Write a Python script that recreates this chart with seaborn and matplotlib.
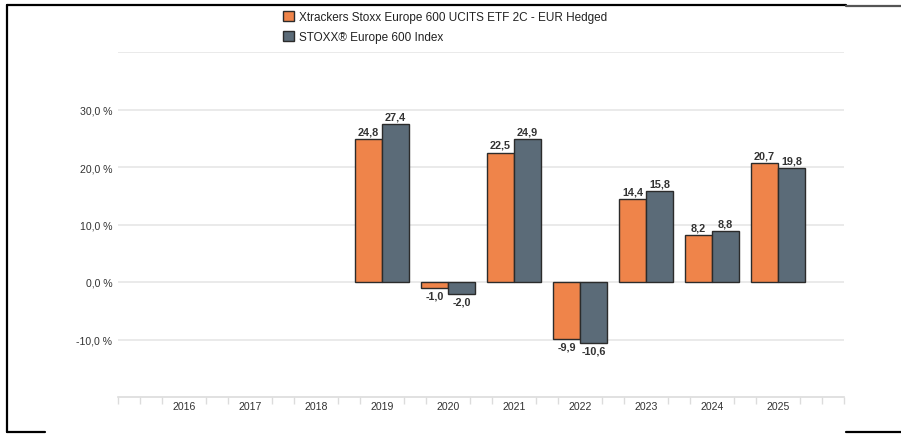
import numpy as np
import pandas as pd
import matplotlib
matplotlib.use("Agg")
import matplotlib.pyplot as plt
from matplotlib.lines import Line2D
import seaborn as sns

# ===========================
# DATA
# ===========================
years = ["2016", "2017", "2018", "2019", "2020", "2021", "2022", "2023", "2024", "2025"]
etf_name = "Xtrackers Stoxx Europe 600 UCITS ETF 2C - EUR Hedged"
idx_name = "STOXX® Europe 600 Index"
etf_values = [np.nan, np.nan, np.nan, 24.8, -1.0, 22.5, -9.9, 14.4, 8.2, 20.7]
idx_values = [np.nan, np.nan, np.nan, 27.4, -2.0, 24.9, -10.6, 15.8, 8.8, 19.8]
y_ticks = [-10, 0, 10, 20, 30]

ORANGE = "#ef844a"
GREY = "#5b6b78"
TEXT = "#333333"

df = pd.DataFrame({
    "year": years * 2,
    "series": [etf_name] * len(years) + [idx_name] * len(years),
    "value": etf_values + idx_values,
})

sns.set_theme(style="white")
plt.rcParams["font.family"] = ["Liberation Sans", "DejaVu Sans"]

fig = plt.figure(figsize=(9.01, 4.35), dpi=100)
ax = fig.add_axes([118 / 901, 1 - 398 / 435, (844 - 118) / 901, (398 - 53) / 435])

sns.barplot(data=df, x="year", y="value", hue="series", order=years,
            hue_order=[etf_name, idx_name], palette=[ORANGE, GREY],
            saturation=1, width=0.82, gap=0, edgecolor="#2b2b2b", linewidth=1.0,
            errorbar=None, ax=ax, legend=True, zorder=3)

# data labels (komma als Dezimaltrenner)
for cont in ax.containers:
    labels = []
    for v in cont.datavalues:
        labels.append("" if np.isnan(v) else f"{v:.1f}".replace(".", ","))
    ax.bar_label(cont, labels=labels, padding=2, fontsize=7.8,
                 fontweight="bold", color=TEXT)

# axes
ax.set_xlim(-1, 10)
ax.set_ylim(-20, 40)
ax.set_yticks(y_ticks + [40])
ax.set_yticklabels([f"{t:.1f} %".replace(".", ",") for t in y_ticks] + [""])
ax.set_xlabel("")
ax.set_ylabel("")
ax.grid(axis="y", color="#e6e6e6", linewidth=1.2, zorder=0)
for s in ["top", "right", "left"]:
    ax.spines[s].set_visible(False)
ax.spines["bottom"].set_color("#dcdcdc")
ax.spines["bottom"].set_linewidth(1.2)

minor = []
for k in range(-1, 11):
    for d in (-0.33, 0.33):
        if -1 <= k + d <= 10:
            minor.append(k + d)
minor += [-1, 10]
ax.set_xticks(minor, minor=True)
ax.tick_params(axis="x", which="major", length=0, pad=3, labelsize=7.6, labelcolor=TEXT)
ax.tick_params(axis="x", which="minor", length=5, width=1, color="#dcdcdc", direction="out", bottom=True)
ax.tick_params(axis="y", length=0, pad=4, labelsize=7.6, labelcolor=TEXT)

# legend
leg = ax.legend(loc="upper left", bbox_to_anchor=(283 / 901, 1 - 12 / 435),
                bbox_transform=fig.transFigure, frameon=False, fontsize=8.45,
                handlelength=0.95, handleheight=0.95, handletextpad=0.4,
                labelspacing=0.7, borderaxespad=0, borderpad=0)
for t in leg.get_texts():
    t.set_color("#222222")

# Rahmen vom Screenshot
def fline(x0, y0, x1, y1, c="black", lw=1.6):
    fig.add_artist(Line2D([x0 / 901, x1 / 901], [1 - y0 / 435, 1 - y1 / 435],
                          transform=fig.transFigure, color=c, linewidth=lw))

fline(7, 6, 7, 433)
fline(7, 6, 846, 6)
fline(846, 7, 901, 7, c="#555555")
fline(7, 433, 45, 433)
fline(846, 433, 901, 433)

fig.savefig("out.png", dpi=100)
